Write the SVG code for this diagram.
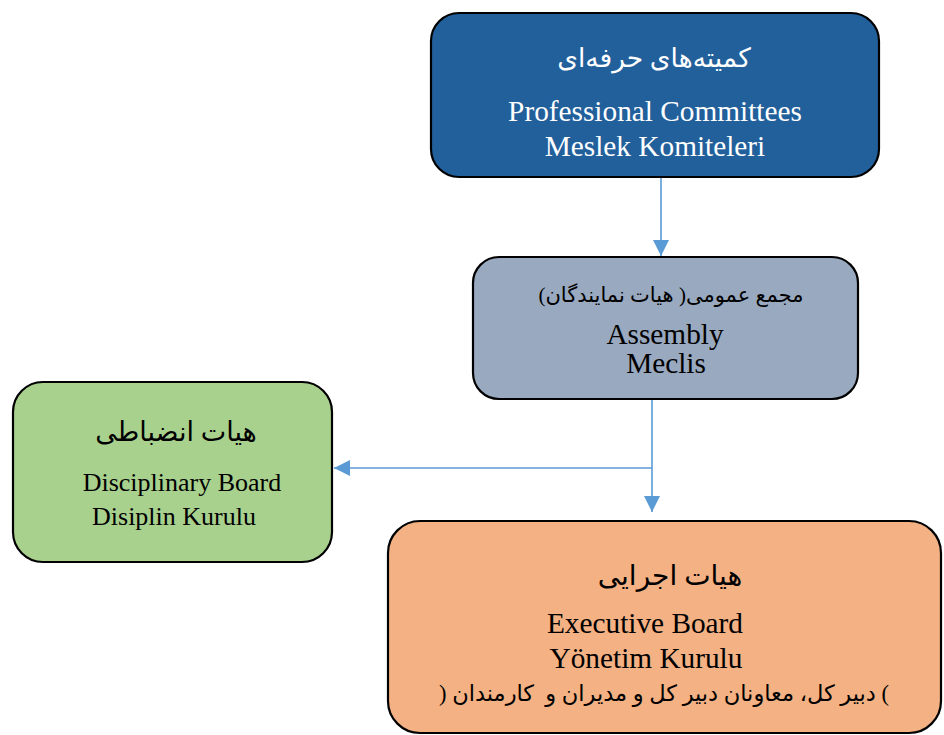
<svg xmlns="http://www.w3.org/2000/svg" width="944" height="735" viewBox="0 0 944 735">
<style>
.box{stroke:#000;stroke-width:2.2}
.en{font-family:"Liberation Serif","Times New Roman",serif;font-size:29.3px;text-anchor:middle;fill:#000}
.fa{font-family:"Liberation Serif","DejaVu Sans",serif;text-anchor:middle;direction:rtl;fill:#000;white-space:pre}
.w{fill:#fff}
.con{stroke:#5B9BD5;stroke-width:1.6;fill:none}
</style>
<defs>
<marker id="ah" viewBox="0 0 10 10" refX="10" refY="5" markerWidth="16" markerHeight="16" markerUnits="userSpaceOnUse" orient="auto">
<path d="M0,0 L10,5 L0,10 Z" fill="#5B9BD5"/>
</marker>
</defs>
<rect width="944" height="735" fill="#fff"/>
<g id="connectors">
<path class="con" d="M661,177 V256" marker-end="url(#ah)"/>
<path class="con" d="M652,399 V512" marker-end="url(#ah)"/>
<path class="con" d="M652,468 H334" marker-end="url(#ah)"/>
</g>
<g id="professional-committees">
<rect class="box" x="431" y="13" width="448" height="164" rx="28" fill="#22609C"/>
<text class="fa w" x="654" y="67" font-size="26.5">کمیته‌های حرفه‌ای</text>
<text class="en w" x="655" y="121">Professional Committees</text>
<text class="en w" x="655" y="156">Meslek Komiteleri</text>
</g>
<g id="assembly">
<rect class="box" x="473" y="257" width="385" height="142" rx="26" fill="#99A9BF"/>
<text class="fa" x="671" y="302" font-size="21">مجمع عمومی( هیات نمایندگان)</text>
<text class="en" x="665" y="344">Assembly</text>
<text class="en" x="666" y="373">Meclis</text>
</g>
<g id="disciplinary-board">
<rect class="box" x="13" y="382" width="319" height="180" rx="30" fill="#A9D18E"/>
<text class="fa" x="176" y="441" font-size="27">هیات انضباطی</text>
<text class="en" x="182" y="491" style="font-size:26px">Disciplinary Board</text>
<text class="en" x="174" y="525" style="font-size:26px">Disiplin Kurulu</text>
</g>
<g id="executive-board">
<rect class="box" x="388" y="521" width="553" height="212" rx="32" fill="#F4B183"/>
<text class="fa" x="670" y="585" font-size="28">هیات اجرایی</text>
<text class="en" x="645" y="633">Executive Board</text>
<text class="en" x="646" y="668">Yönetim Kurulu</text>
<text class="fa" x="664" y="701" font-size="22.5">) دبیر کل، معاونان دبیر کل و مدیران و  کارمندان (</text>
</g>
</svg>
